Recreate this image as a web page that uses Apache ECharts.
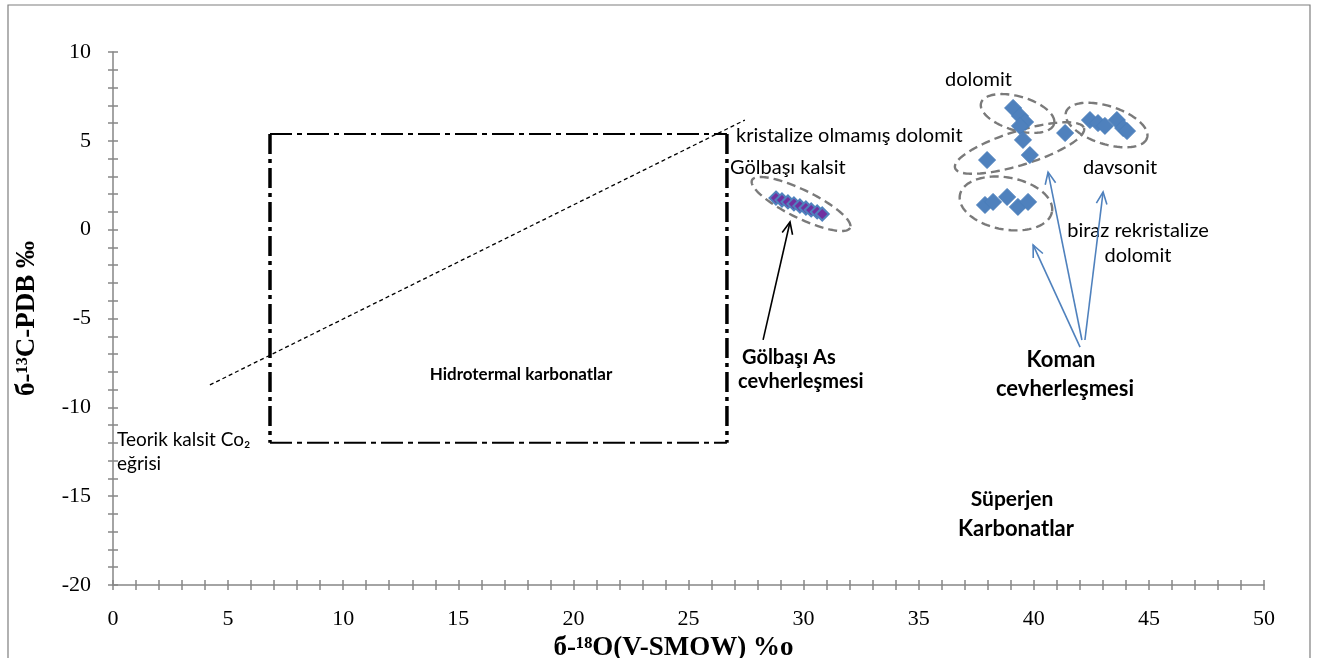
<!DOCTYPE html>
<html><head><meta charset="utf-8">
<script src="https://cdn.jsdelivr.net/npm/echarts@6/dist/echarts.min.js"></script>
<style>html,body{margin:0;padding:0;background:#fff}#c{width:1318px;height:658px}</style>
</head><body><div id="c"></div>
<script>
// ---- data ----
const xTickLabels = [0, 5, 10, 15, 20, 25, 30, 35, 40, 45, 50];
const yTickLabels = [-20, -15, -10, -5, 0, 5, 10];

// Gölbaşı As cevherleşmesi (kalsit)
const golbasiX = [28.80, 29.06, 29.32, 29.58, 29.84, 30.10, 30.33, 30.59, 30.81];
const golbasiY = [1.78, 1.67, 1.56, 1.45, 1.33, 1.22, 1.11, 1.00, 0.88];

// Koman cevherleşmesi
const komanX = [39.10, 39.40, 39.62, 39.40, 39.53, 41.36, 37.97, 39.83,
                42.44, 42.79, 43.09, 43.61, 43.88, 44.05,
                37.88, 38.23, 38.84, 39.31, 39.75];
const komanY = [6.85, 6.40, 6.06, 5.84, 5.05, 5.44, 3.92, 4.20,
                6.17, 6.00, 5.84, 6.17, 5.72, 5.55,
                1.39, 1.56, 1.84, 1.28, 1.56];

// Hidrotermal karbonatlar box
const boxX = [6.82, 26.67];
const boxY = [-12.0, 5.39];

// Teorik kalsit CO2 eğrisi (dashed line ends)
const curveX = [4.21, 27.45];
const curveY = [-8.74, 6.17];

// field ellipses: major-axis ends (data units)
const ellipseA = [[27.76, 2.79], [37.71, 7.13], [36.58, 3.47], [41.40, 6.62], [36.79, 1.95]];
const ellipseB = [[32.02, 0.10], [40.88, 5.95], [42.18, 5.72], [44.92, 5.16], [40.79, 1.00]];

// arrows: start -> end (data units)
const blackArrowFrom = [[28.24, -6.20]];
const blackArrowTo   = [[29.41, 0.43]];
const blueArrowFrom = [[42.01, -6.61], [42.09, -6.21], [42.22, -6.21]];
const blueArrowTo   = [[39.97, -0.86], [40.62, 3.24], [43.01, 2.12]];

// ---- presentation ----
const ellipseMinorPx = [14, 17, 17, 19, 26];
const serif = '"Liberation Serif", "DejaVu Serif", serif';
const sans = 'Lato, "Noto Sans", sans-serif';
const axisGray = '#868686';

const chart = echarts.init(document.getElementById('c'));

function pairs(xs, ys) { return xs.map((x, i) => [x, ys[i]]); }

function ellipseRender(params, api) {
  const p1 = api.coord([api.value(0), api.value(1)]);
  const p2 = api.coord([api.value(2), api.value(3)]);
  const cx = (p1[0] + p2[0]) / 2, cy = (p1[1] + p2[1]) / 2;
  const a = Math.hypot(p2[0] - p1[0], p2[1] - p1[1]) / 2;
  const th = Math.atan2(p2[1] - p1[1], p2[0] - p1[0]);
  const b = ellipseMinorPx[params.dataIndex];
  const pts = [];
  for (let k = 0; k <= 120; k++) {
    const t = k / 120 * Math.PI * 2;
    pts.push([cx + a * Math.cos(t) * Math.cos(th) - b * Math.sin(t) * Math.sin(th),
              cy + a * Math.cos(t) * Math.sin(th) + b * Math.sin(t) * Math.cos(th)]);
  }
  return { type: 'polyline', shape: { points: pts },
           style: { fill: null, stroke: '#7a7a7a', lineWidth: 2.4, lineDash: [9, 5] } };
}

function arrowRender(color, width) {
  return function (params, api) {
    const p1 = api.coord([api.value(0), api.value(1)]);
    const p2 = api.coord([api.value(2), api.value(3)]);
    const th = Math.atan2(p2[1] - p1[1], p2[0] - p1[0]);
    const L = 13, w = 0.42;
    const h1 = [p2[0] - L * Math.cos(th - w), p2[1] - L * Math.sin(th - w)];
    const h2 = [p2[0] - L * Math.cos(th + w), p2[1] - L * Math.sin(th + w)];
    return { type: 'group', children: [
      { type: 'line', shape: { x1: p1[0], y1: p1[1], x2: p2[0], y2: p2[1] },
        style: { stroke: color, lineWidth: width } },
      { type: 'polyline', shape: { points: [h1, p2, h2] },
        style: { fill: null, stroke: color, lineWidth: width } }
    ]};
  };
}

const lineBase = { type: 'line', symbol: 'none', silent: true, z: 2, animation: false };

function txt(text, x, y, opts) {
  return Object.assign({ type: 'text', x: x, y: y, silent: true,
    style: Object.assign({ text: text, fill: '#000', font: '20px ' + sans,
      textAlign: 'left', textVerticalAlign: 'middle' }, opts || {}) });
}

const option = {
  animation: false,
  backgroundColor: '#fff',
  grid: { left: 113, right: 54, top: 52, bottom: 73, containLabel: false, outerBoundsMode: 'none' },
  xAxis: [{
    type: 'value', min: 0, max: 50, interval: 1,
    splitLine: { show: false },
    axisLine: { show: true, onZero: false, lineStyle: { color: axisGray, width: 1.5 } },
    axisTick: { show: true, inside: false, length: 5, lineStyle: { color: axisGray, width: 1.5 } },
    axisLabel: { margin: 23, color: '#000', fontFamily: serif, fontSize: 22,
      formatter: v => xTickLabels.includes(v) ? String(v) : '' },
    name: 'б-¹⁸O(V-SMOW) %o', nameLocation: 'middle', nameGap: 49,
    nameTextStyle: { fontFamily: serif, fontWeight: 'bold', fontSize: 27, color: '#000', padding: [0, 30, 0, 0] }
  }, {
    type: 'value', min: 0, max: 50, interval: 1, position: 'bottom',
    splitLine: { show: false }, axisLine: { show: false, onZero: false },
    axisTick: { show: true, inside: true, length: 5, lineStyle: { color: axisGray, width: 1.5 } },
    axisLabel: { show: false }
  }],
  yAxis: [{
    type: 'value', min: -20, max: 10, interval: 1,
    splitLine: { show: false },
    axisLine: { show: true, onZero: false, lineStyle: { color: axisGray, width: 1.5 } },
    axisTick: { show: true, inside: false, length: 5, lineStyle: { color: axisGray, width: 1.5 } },
    axisLabel: { margin: 22, color: '#000', fontFamily: serif, fontSize: 22,
      formatter: v => yTickLabels.includes(v) ? String(v) : '' },
    name: 'б-¹³C-PDB ‰', nameLocation: 'middle', nameGap: 72,
    nameTextStyle: { fontFamily: serif, fontWeight: 'bold', fontSize: 27, color: '#000' }
  }, {
    type: 'value', min: -20, max: 10, interval: 1, position: 'left',
    splitLine: { show: false }, axisLine: { show: false, onZero: false },
    axisTick: { show: true, inside: true, length: 5, lineStyle: { color: axisGray, width: 1.5 } },
    axisLabel: { show: false }
  }],
  series: [
    Object.assign({}, lineBase, { data: [[boxX[0], boxY[1]], [boxX[1], boxY[1]]],
      lineStyle: { color: '#000', width: 2, type: [22, 5, 5, 5] } }),
    Object.assign({}, lineBase, { data: [[boxX[0], boxY[0]], [boxX[1], boxY[0]]],
      lineStyle: { color: '#000', width: 2, type: [22, 5, 5, 5] } }),
    Object.assign({}, lineBase, { data: [[boxX[0], boxY[1]], [boxX[0], boxY[0]]],
      lineStyle: { color: '#000', width: 3.5, type: [20, 5, 4, 5] } }),
    Object.assign({}, lineBase, { data: [[boxX[1], boxY[1]], [boxX[1], boxY[0]]],
      lineStyle: { color: '#000', width: 3.5, type: [20, 5, 4, 5] } }),
    Object.assign({}, lineBase, { data: pairs(curveX, curveY),
      lineStyle: { color: '#000', width: 1.3, type: [4, 3] } }),
    { type: 'custom', silent: true, z: 3, renderItem: ellipseRender,
      encode: { x: [0, 2], y: [1, 3] },
      data: ellipseA.map((a, i) => [a[0], a[1], ellipseB[i][0], ellipseB[i][1]]) },
    { type: 'custom', silent: true, z: 3, renderItem: arrowRender('#000', 1.6),
      encode: { x: [0, 2], y: [1, 3] },
      data: blackArrowFrom.map((a, i) => [a[0], a[1], blackArrowTo[i][0], blackArrowTo[i][1]]) },
    { type: 'custom', silent: true, z: 3, renderItem: arrowRender('#4F81BD', 1.6),
      encode: { x: [0, 2], y: [1, 3] },
      data: blueArrowFrom.map((a, i) => [a[0], a[1], blueArrowTo[i][0], blueArrowTo[i][1]]) },
    { name: 'Gölbaşı', type: 'scatter', symbol: 'diamond', symbolSize: 13, z: 5,
      itemStyle: { color: '#7030A0', borderColor: '#4F81BD', borderWidth: 2, opacity: 1 },
      data: pairs(golbasiX, golbasiY) },
    { name: 'Koman', type: 'scatter', symbol: 'diamond', symbolSize: 17, z: 5,
      itemStyle: { color: '#4F81BD', borderColor: '#4A7EBB', borderWidth: 1, opacity: 1 },
      data: pairs(komanX, komanY) }
  ],
  graphic: [
    { type: 'rect', shape: { x: 8, y: 5, width: 1302, height: 700 }, silent: true, z: -1,
      style: { fill: null, stroke: '#7f7f7f', lineWidth: 1.2 } },
    txt('kristalize olmamış dolomit', 736, 136),
    txt('Gölbaşı kalsit', 730, 168),
    txt('dolomit', 945, 80),
    txt('davsonit', 1083, 168),
    txt('biraz rekristalize', 1138, 231, { textAlign: 'center' }),
    txt('dolomit', 1138, 256, { textAlign: 'center' }),
    txt('Gölbaşı As', 742, 358, { font: 'bold 20px ' + sans }),
    txt('cevherleşmesi', 738, 382, { font: 'bold 20px ' + sans }),
    txt('Koman', 1061, 360, { textAlign: 'center', font: 'bold 22px ' + sans }),
    txt('cevherleşmesi', 1065, 389, { textAlign: 'center', font: 'bold 22px ' + sans }),
    txt('Hidrotermal karbonatlar', 521, 375, { textAlign: 'center', font: 'bold 17px ' + sans }),
    txt('Teorik kalsit Co₂', 117, 440, { font: '19px ' + sans }),
    txt('eğrisi', 117, 464, { font: '19px ' + sans }),
    txt('Süperjen', 1012, 499, { textAlign: 'center', font: 'bold 21px ' + sans }),
    txt('Karbonatlar', 1016, 529, { textAlign: 'center', font: 'bold 22px ' + sans })
  ]
};
chart.setOption(option);
</script>
</body></html>
